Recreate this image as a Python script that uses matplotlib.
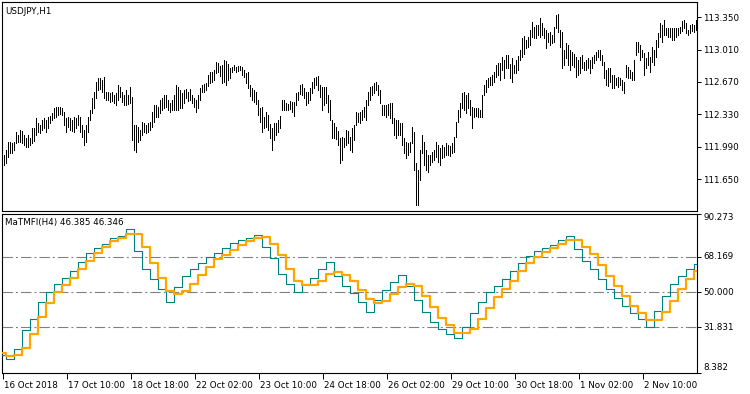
import numpy as np
import matplotlib
matplotlib.use('Agg')
import matplotlib.pyplot as plt
from matplotlib.transforms import ScaledTranslation

plt.rcParams['font.family'] = 'DejaVu Sans'
plt.rcParams['lines.scale_dashes'] = False

# USDJPY H1 bars (high / low), one per hour
highs = [
    111.90, 111.96, 112.04, 112.04, 112.03, 112.04, 112.14, 112.11, 112.17, 112.15,
    112.11, 112.08, 112.11, 112.08, 112.19, 112.19, 112.29, 112.24, 112.22, 112.27,
    112.29, 112.27, 112.30, 112.31, 112.34, 112.40, 112.41, 112.41, 112.41, 112.40,
    112.35, 112.29, 112.30, 112.29, 112.27, 112.30, 112.29, 112.32, 112.30, 112.22,
    112.17, 112.22, 112.30, 112.38, 112.50, 112.56, 112.67, 112.71, 112.71, 112.69,
    112.72, 112.56, 112.56, 112.55, 112.56, 112.53, 112.55, 112.64, 112.62, 112.56,
    112.53, 112.59, 112.53, 112.62, 112.51, 112.22, 112.22, 112.20, 112.17, 112.25,
    112.24, 112.22, 112.24, 112.25, 112.35, 112.43, 112.43, 112.41, 112.48, 112.50,
    112.53, 112.53, 112.48, 112.45, 112.48, 112.53, 112.64, 112.62, 112.59, 112.55,
    112.59, 112.60, 112.56, 112.60, 112.53, 112.50, 112.48, 112.53, 112.61, 112.64,
    112.65, 112.66, 112.74, 112.77, 112.77, 112.80, 112.88, 112.87, 112.84, 112.85,
    112.90, 112.89, 112.86, 112.82, 112.83, 112.85, 112.83, 112.84, 112.84, 112.83,
    112.80, 112.76, 112.77, 112.64, 112.61, 112.59, 112.56, 112.48, 112.40, 112.41,
    112.30, 112.35, 112.32, 112.23, 112.19, 112.24, 112.24, 112.27, 112.31, 112.48,
    112.48, 112.45, 112.44, 112.47, 112.46, 112.46, 112.55, 112.56, 112.64, 112.65,
    112.61, 112.56, 112.56, 112.61, 112.67, 112.71, 112.72, 112.73, 112.64, 112.62,
    112.62, 112.62, 112.53, 112.48, 112.27, 112.24, 112.20, 112.15, 112.08, 112.09,
    112.08, 112.17, 112.15, 112.09, 112.19, 112.22, 112.35, 112.34, 112.35, 112.38,
    112.41, 112.48, 112.56, 112.62, 112.63, 112.66, 112.67, 112.64, 112.59, 112.43,
    112.43, 112.43, 112.44, 112.45, 112.45, 112.29, 112.27, 112.27, 112.24, 112.24,
    112.08, 112.04, 112.03, 112.04, 112.20, 112.14, 111.82, 111.75, 111.96, 112.11,
    112.04, 111.96, 111.90, 111.90, 111.93, 111.96, 112.04, 112.01, 111.98, 112.01,
    111.99, 112.03, 112.01, 112.00, 112.03, 112.09, 112.25, 112.38, 112.45, 112.55,
    112.56, 112.53, 112.55, 112.48, 112.41, 112.40, 112.40, 112.40, 112.38, 112.53,
    112.64, 112.69, 112.71, 112.72, 112.74, 112.77, 112.85, 112.87, 112.87, 112.93,
    112.90, 112.95, 112.95, 112.86, 112.92, 112.85, 112.90, 112.94, 113.01, 113.13,
    113.15, 113.11, 113.14, 113.22, 113.30, 113.25, 113.27, 113.27, 113.34, 113.29,
    113.24, 113.22, 113.18, 113.19, 113.16, 113.25, 113.37, 113.38, 113.22, 113.19,
    113.01, 113.08, 113.06, 113.01, 112.98, 112.96, 112.93, 112.90, 112.93, 112.95,
    112.88, 112.90, 112.92, 112.90, 112.93, 112.95, 112.98, 113.01, 113.01, 112.95,
    112.88, 112.80, 112.82, 112.82, 112.74, 112.74, 112.71, 112.72, 112.71, 112.69,
    112.67, 112.85, 112.83, 112.80, 112.77, 112.90, 113.09, 113.09, 113.06, 113.01,
    112.97, 112.92, 112.98, 112.93, 113.04, 113.01, 113.11, 113.18, 113.29, 113.27,
    113.32, 113.24, 113.24, 113.24, 113.24, 113.24, 113.24, 113.24, 113.25, 113.31,
    113.32, 113.29, 113.22, 113.27, 113.28, 113.27, 113.32,
]
lows = [
    111.80, 111.82, 111.88, 111.92, 111.92, 111.96, 112.03, 112.04, 112.04, 112.03,
    112.01, 111.99, 111.99, 112.01, 112.03, 112.05, 112.11, 112.14, 112.13, 112.17,
    112.19, 112.14, 112.19, 112.24, 112.27, 112.29, 112.30, 112.32, 112.33, 112.32,
    112.22, 112.14, 112.20, 112.17, 112.15, 112.14, 112.19, 112.22, 112.14, 112.09,
    112.01, 112.04, 112.14, 112.27, 112.34, 112.40, 112.50, 112.59, 112.60, 112.56,
    112.50, 112.48, 112.48, 112.46, 112.47, 112.45, 112.43, 112.48, 112.51, 112.46,
    112.43, 112.43, 112.44, 112.45, 112.06, 111.96, 111.93, 112.04, 112.06, 112.11,
    112.14, 112.13, 112.14, 112.17, 112.20, 112.25, 112.30, 112.30, 112.34, 112.38,
    112.40, 112.41, 112.38, 112.35, 112.38, 112.38, 112.38, 112.38, 112.40, 112.40,
    112.45, 112.50, 112.47, 112.48, 112.45, 112.41, 112.35, 112.40, 112.48, 112.56,
    112.56, 112.59, 112.63, 112.66, 112.67, 112.69, 112.76, 112.77, 112.73, 112.66,
    112.67, 112.64, 112.69, 112.71, 112.77, 112.80, 112.77, 112.78, 112.80, 112.74,
    112.72, 112.66, 112.61, 112.52, 112.48, 112.46, 112.44, 112.32, 112.25, 112.14,
    112.19, 112.20, 112.17, 112.08, 111.96, 112.06, 112.11, 112.14, 112.19, 112.38,
    112.38, 112.38, 112.38, 112.39, 112.35, 112.31, 112.43, 112.48, 112.54, 112.53,
    112.50, 112.43, 112.45, 112.48, 112.55, 112.61, 112.64, 112.59, 112.51, 112.38,
    112.43, 112.45, 112.35, 112.27, 112.08, 112.08, 112.07, 112.01, 111.82, 111.85,
    111.99, 112.01, 112.03, 111.96, 111.93, 112.06, 112.22, 112.25, 112.24, 112.27,
    112.30, 112.27, 112.43, 112.48, 112.53, 112.55, 112.59, 112.53, 112.45, 112.32,
    112.32, 112.30, 112.32, 112.29, 112.24, 112.11, 112.08, 112.11, 112.11, 112.01,
    111.92, 111.87, 111.90, 111.93, 112.03, 111.75, 111.38, 111.38, 111.64, 111.92,
    111.80, 111.75, 111.72, 111.80, 111.83, 111.85, 111.88, 111.83, 111.80, 111.87,
    111.88, 111.90, 111.90, 111.89, 111.92, 111.93, 112.09, 112.25, 112.30, 112.40,
    112.38, 112.34, 112.40, 112.32, 112.19, 112.30, 112.31, 112.30, 112.30, 112.30,
    112.53, 112.56, 112.62, 112.64, 112.64, 112.67, 112.72, 112.74, 112.69, 112.80,
    112.71, 112.82, 112.82, 112.71, 112.67, 112.76, 112.76, 112.80, 112.90, 112.93,
    112.96, 113.03, 113.04, 113.06, 113.14, 113.13, 113.13, 113.16, 113.14, 113.16,
    113.13, 113.03, 113.09, 113.06, 113.08, 113.09, 113.24, 113.19, 113.04, 112.82,
    112.85, 112.92, 112.85, 112.80, 112.85, 112.83, 112.72, 112.74, 112.76, 112.82,
    112.80, 112.80, 112.82, 112.76, 112.82, 112.87, 112.90, 112.93, 112.90, 112.85,
    112.71, 112.64, 112.63, 112.67, 112.61, 112.61, 112.64, 112.62, 112.64, 112.59,
    112.55, 112.72, 112.71, 112.71, 112.69, 112.69, 112.95, 112.98, 112.90, 112.93,
    112.74, 112.82, 112.85, 112.77, 112.88, 112.85, 112.93, 113.04, 113.14, 113.09,
    113.16, 113.16, 113.14, 113.14, 113.11, 113.11, 113.14, 113.16, 113.18, 113.20,
    113.24, 113.18, 113.16, 113.18, 113.20, 113.19, 113.22,
]

# MaTMFI values, one per H4 bar
mfi_main = [
    17.87, 15.83, 20.94, 30.30, 36.26, 44.77, 50.21, 54.13, 57.53, 60.94,
    65.53, 70.30, 72.85, 75.06, 77.96, 78.81, 82.55, 71.15, 61.79, 56.68,
    51.57, 45.11, 52.43, 58.38, 61.79, 65.19, 68.08, 70.30, 72.85, 75.40,
    77.10, 77.96, 79.66, 73.36, 67.74, 59.23, 54.13, 50.21, 54.13, 57.53,
    61.79, 65.53, 58.38, 53.28, 49.53, 44.77, 40.00, 46.13, 51.23, 55.32,
    58.89, 52.94, 46.13, 39.66, 34.55, 30.81, 28.26, 26.21, 32.00, 39.32,
    44.77, 49.87, 53.28, 56.68, 60.94, 65.19, 68.60, 71.15, 72.85, 74.55,
    77.10, 78.81, 72.00, 66.04, 61.79, 56.68, 51.57, 46.81, 42.72, 39.32,
    36.26, 32.00, 40.51, 47.83, 54.13, 58.38, 62.13, 64.68,
]
mfi_signal = [
    18.90, 17.19, 17.87, 21.28, 28.43, 37.28, 44.43, 50.04, 53.96, 57.53,
    61.79, 66.04, 70.30, 73.36, 76.25, 77.96, 80.17, 80.17, 73.02, 65.02,
    57.19, 50.38, 49.19, 50.55, 54.13, 58.72, 62.98, 66.89, 69.28, 71.66,
    74.38, 76.25, 77.96, 78.47, 75.06, 68.94, 61.79, 55.83, 53.62, 53.62,
    55.83, 59.23, 60.43, 58.72, 55.83, 51.06, 46.47, 44.43, 45.62, 49.02,
    52.43, 54.47, 53.28, 48.17, 42.21, 36.60, 32.85, 29.11, 29.11, 31.15,
    36.26, 41.70, 47.32, 51.57, 55.83, 60.94, 65.19, 68.26, 70.81, 72.85,
    75.06, 77.10, 76.77, 73.36, 69.45, 63.83, 58.38, 52.94, 47.83, 43.06,
    39.32, 35.75, 35.75, 39.66, 45.28, 51.57, 57.02, 60.94,
]

levels = [68.169, 50.000, 31.831]
price_ticks = [111.650, 111.990, 112.330, 112.670, 113.010, 113.350]
mfi_ticks = [8.382, 31.831, 50.000, 68.169, 90.273]
time_labels = ['16 Oct 2018', '17 Oct 10:00', '18 Oct 18:00', '22 Oct 02:00',
               '23 Oct 10:00', '24 Oct 18:00', '26 Oct 02:00', '29 Oct 10:00',
               '30 Oct 18:00', '1 Nov 02:00', '2 Nov 10:00']

FS = 6.3
n = len(highs)

fig = plt.figure(figsize=(7.5, 3.94), dpi=100)
ax1 = fig.add_axes([2 / 750, 1 - 211 / 394, 695 / 750, 209 / 394])
ax2 = fig.add_axes([2 / 750, 1 - 373 / 394, 695 / 750, 159 / 394])

# price panel: thin high-low bars, 1 px wide
ax1.vlines(np.arange(n) + 0.25, lows, highs, colors='black', linewidth=0.72,
           antialiased=False, snap=True)
ax1.set_xlim(-0.5, n)
ax1.set_ylim(111.3145, 113.509)
ax1.set_xticks([])
ax1.set_yticks(price_ticks)
ax1.set_yticklabels(['%.3f' % v for v in price_ticks])
ax1.yaxis.tick_right()
ax1.tick_params(axis='y', length=3, width=0.7, pad=1.5, labelsize=FS)
ax1.text(0.005, 0.975, 'USDJPY,H1', transform=ax1.transAxes, fontsize=FS,
         ha='left', va='top')

# indicator panel (H4 values drawn on the H1 axis)
starts = np.r_[-0.5, 4 * np.arange(1, len(mfi_main)) - 2.5, n]
ax2.step(starts, np.r_[mfi_main, mfi_main[-1]], where='post',
         color='#008080', linewidth=0.8, zorder=3)
ax2.step(starts, np.r_[mfi_signal, mfi_signal[-1]], where='post',
         color='#FFA500', linewidth=1.6, zorder=4)
for lv in levels:
    ax2.axhline(lv, color='#808080', linewidth=0.8,
                linestyle=(0, (7.5, 2.2, 1.4, 2.2)), zorder=1)
ax2.set_xlim(-0.5, n)
ax2.set_ylim(mfi_ticks[0], mfi_ticks[-1])
ax2.set_yticks(mfi_ticks)
ax2.set_yticklabels([])
ax2.yaxis.tick_right()
ax2.tick_params(axis='y', length=3, width=0.7)
shift = {0: 5, len(mfi_ticks) - 1: -4}
for i, v in enumerate(mfi_ticks):
    ax2.annotate('%.3f' % v, xy=(1, v), xycoords=('axes fraction', 'data'),
                 xytext=(4.5, shift.get(i, 0) * 0.72), textcoords='offset points',
                 fontsize=FS, ha='left', va='center', annotation_clip=False)
ax2.text(0.004, 0.975, 'MaTMFI(H4) 46.385 46.346', transform=ax2.transAxes,
         fontsize=FS, ha='left', va='top')

ax2.set_xticks(np.arange(len(time_labels)) * 32)
ax2.set_xticklabels(time_labels)
ax2.tick_params(axis='x', length=4, width=0.7, pad=1.5, labelsize=FS)
off = ScaledTranslation(1.5 / 100, 0, fig.dpi_scale_trans)
for lab in ax2.get_xticklabels():
    lab.set_horizontalalignment('left')
    lab.set_transform(lab.get_transform() + off)

for ax in (ax1, ax2):
    for sp in ax.spines.values():
        sp.set_linewidth(0.8)
        sp.set_color('black')

fig.savefig('out.png', dpi=100)
